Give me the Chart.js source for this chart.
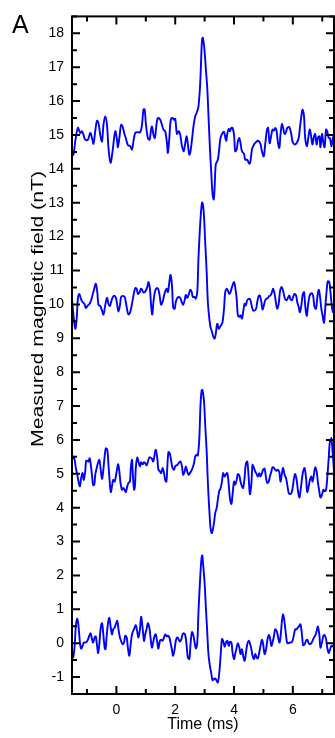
<!DOCTYPE html>
<html>
<head>
<meta charset="utf-8">
<script src="https://cdn.jsdelivr.net/npm/chart.js@4"></script>
<style>
  html, body { margin: 0; padding: 0; background: #fff; }
  canvas { display: block; }
</style>
</head>
<body>
<canvas id="fieldChart" width="335" height="738"></canvas>
<script>
// traces, each one offset by 5 nT
const time15 = [-1.51,-1.46,-1.40,-1.31,-1.23,-1.17,-1.12,-1.06,-0.97,-0.89,
  -0.83,-0.78,-0.72,-0.66,-0.61,-0.55,-0.49,-0.44,-0.38,-0.32,
  -0.27,-0.20,-0.13,-0.04,0.02,0.05,0.10,0.16,0.21,0.28,
  0.32,0.39,0.47,0.53,0.58,0.64,0.72,0.81,0.87,0.92,
  0.96,1.00,1.07,1.13,1.17,1.21,1.26,1.31,1.35,1.41,
  1.49,1.55,1.60,1.66,1.72,1.75,1.80,1.85,1.91,1.96,
  2.00,2.06,2.12,2.17,2.23,2.29,2.34,2.39,2.43,2.48,
  2.52,2.57,2.62,2.68,2.74,2.79,2.85,2.91,2.94,2.99,
  3.04,3.09,3.13,3.18,3.23,3.27,3.31,3.34,3.38,3.45,
  3.50,3.54,3.61,3.66,3.73,3.77,3.82,3.86,3.91,3.95,
  4.00,4.04,4.09,4.13,4.18,4.22,4.27,4.34,4.38,4.45,
  4.52,4.56,4.61,4.68,4.75,4.81,4.89,4.95,5.01,5.06,
  5.12,5.16,5.21,5.27,5.31,5.36,5.40,5.45,5.49,5.54,
  5.58,5.63,5.67,5.72,5.77,5.81,5.88,5.94,5.99,6.06,
  6.13,6.20,6.24,6.29,6.33,6.38,6.42,6.48,6.54,6.58,
  6.63,6.67,6.72,6.76,6.81,6.85,6.90,6.94,6.99,7.04,
  7.08,7.13,7.17,7.22,7.26,7.31,7.35,7.40,7.43];
const field15 = [14.47,14.42,14.81,15.21,15.06,15.11,15.01,14.86,14.86,15.06,
  14.91,14.74,15.11,15.42,15.35,15.01,14.81,15.30,15.55,15.30,
  14.62,14.18,14.52,15.11,14.86,14.64,14.91,15.30,15.25,15.01,
  14.91,14.70,14.67,14.57,14.81,15.06,15.08,15.08,15.30,15.75,
  15.75,15.35,14.91,14.86,15.11,15.25,15.01,14.91,15.21,15.50,
  15.45,15.30,15.16,15.11,14.76,14.47,14.91,15.45,15.50,15.45,
  15.48,15.03,15.11,15.01,14.67,14.52,14.76,14.96,14.72,14.42,
  14.52,14.86,15.25,15.55,15.68,15.84,16.53,17.80,17.87,17.56,
  16.97,16.38,15.60,14.62,13.83,13.25,13.10,13.44,14.13,14.27,
  14.62,14.91,15.06,15.09,14.83,15.03,15.18,15.11,15.21,15.21,
  15.01,14.52,14.57,14.81,14.91,14.76,14.52,14.44,14.27,14.27,
  14.15,14.23,14.57,14.72,14.79,14.83,14.76,14.52,14.37,14.72,
  15.16,15.21,14.76,15.01,15.16,15.13,15.21,15.11,14.79,14.62,
  15.01,15.32,15.21,15.03,15.09,15.21,15.23,15.06,14.81,14.72,
  14.76,14.91,15.21,15.55,15.75,15.55,14.91,14.67,15.01,15.16,
  14.91,14.72,14.96,15.03,14.72,14.91,14.96,14.64,15.03,14.76,
  14.64,15.16,15.11,14.91,14.91,14.67,14.86,15.01,15.01];

const time10 = [-1.51,-1.46,-1.40,-1.35,-1.31,-1.26,-1.21,-1.15,-1.09,-1.04,
  -0.97,-0.91,-0.86,-0.80,-0.74,-0.70,-0.65,-0.61,-0.55,-0.49,
  -0.44,-0.38,-0.32,-0.27,-0.22,-0.18,-0.12,-0.06,-0.01,0.03,
  0.07,0.12,0.16,0.22,0.28,0.32,0.37,0.41,0.47,0.53,
  0.58,0.64,0.69,0.73,0.79,0.83,0.87,0.91,0.96,1.00,
  1.05,1.09,1.14,1.18,1.22,1.26,1.32,1.38,1.42,1.47,
  1.52,1.57,1.62,1.66,1.71,1.75,1.80,1.84,1.89,1.93,
  1.98,2.02,2.07,2.11,2.17,2.23,2.27,2.32,2.36,2.41,
  2.45,2.51,2.56,2.60,2.66,2.70,2.75,2.79,2.84,2.89,
  2.92,2.97,3.02,3.07,3.11,3.16,3.20,3.25,3.29,3.34,
  3.38,3.43,3.48,3.52,3.57,3.61,3.66,3.70,3.75,3.79,
  3.84,3.88,3.93,4.00,4.04,4.09,4.13,4.18,4.22,4.27,
  4.31,4.36,4.40,4.45,4.52,4.56,4.61,4.65,4.70,4.75,
  4.79,4.84,4.88,4.93,4.97,5.02,5.06,5.11,5.15,5.20,
  5.24,5.29,5.33,5.38,5.43,5.47,5.52,5.56,5.61,5.65,
  5.70,5.74,5.79,5.83,5.88,5.92,5.97,6.01,6.06,6.11,
  6.15,6.20,6.24,6.29,6.33,6.38,6.42,6.47,6.51,6.56,
  6.60,6.65,6.69,6.74,6.79,6.83,6.88,6.92,6.97,7.01,
  7.06,7.10,7.15,7.19,7.24,7.28,7.33,7.37,7.43];
const field10 = [10.17,9.68,9.28,9.58,10.17,10.31,10.17,10.07,10.02,9.89,
  9.97,10.02,10.12,10.31,10.51,10.61,10.36,9.99,9.95,9.82,
  9.70,9.97,10.19,10.02,9.95,10.07,10.22,10.25,10.17,9.97,
  9.79,9.97,10.22,10.25,10.22,10.07,9.82,9.70,9.77,10.02,
  10.26,10.48,10.46,10.31,10.36,10.46,10.44,10.36,10.36,10.41,
  10.51,10.66,10.46,9.97,9.70,10.07,10.41,10.48,10.46,10.26,
  9.99,10.07,10.26,10.38,10.46,10.36,10.66,10.87,10.56,9.92,
  9.87,10.07,10.19,10.22,10.19,10.05,9.99,10.12,10.28,10.19,
  10.26,10.43,10.36,10.22,10.22,10.17,10.36,11.34,12.23,12.86,
  13.01,12.72,11.83,10.95,10.07,9.58,9.33,9.19,9.06,8.99,
  9.14,9.43,9.28,9.33,9.40,9.48,9.87,10.36,10.46,10.41,
  10.31,10.36,10.51,10.66,10.51,10.17,9.68,9.63,9.68,9.58,
  9.77,10.02,9.97,10.12,10.17,10.12,9.92,9.82,9.82,9.87,
  10.07,10.25,10.26,10.07,9.85,9.99,10.12,10.17,10.19,10.25,
  10.26,10.36,10.46,10.31,10.02,9.87,10.02,10.36,10.51,10.46,
  10.28,10.15,10.12,10.19,10.26,10.15,10.12,10.22,10.31,10.26,
  10.07,9.92,9.77,9.97,10.26,10.36,9.97,9.66,9.92,10.22,
  10.31,10.33,10.25,9.92,9.87,10.19,10.43,10.26,9.87,9.68,
  9.46,9.87,10.41,10.68,10.66,10.36,9.92,9.77,9.99];

const time5 = [-1.51,-1.47,-1.42,-1.38,-1.33,-1.29,-1.24,-1.20,-1.15,-1.11,
  -1.06,-1.03,-0.98,-0.95,-0.91,-0.87,-0.82,-0.79,-0.75,-0.72,
  -0.67,-0.63,-0.58,-0.54,-0.49,-0.45,-0.40,-0.36,-0.31,-0.27,
  -0.22,-0.19,-0.15,-0.11,-0.06,-0.02,0.03,0.06,0.10,0.14,
  0.19,0.23,0.28,0.32,0.37,0.41,0.46,0.49,0.53,0.56,
  0.60,0.63,0.66,0.71,0.75,0.80,0.84,0.89,0.94,0.98,
  1.03,1.07,1.12,1.16,1.21,1.25,1.30,1.34,1.39,1.43,
  1.48,1.52,1.57,1.62,1.66,1.70,1.73,1.77,1.82,1.87,
  1.91,1.96,2.00,2.05,2.09,2.14,2.18,2.23,2.27,2.32,
  2.36,2.41,2.45,2.50,2.55,2.59,2.64,2.68,2.73,2.77,
  2.82,2.86,2.90,2.93,2.98,3.02,3.07,3.10,3.13,3.17,
  3.20,3.24,3.27,3.32,3.36,3.41,3.45,3.50,3.54,3.59,
  3.63,3.68,3.72,3.77,3.82,3.86,3.91,3.95,4.00,4.04,
  4.09,4.13,4.18,4.22,4.27,4.31,4.36,4.40,4.45,4.50,
  4.54,4.59,4.63,4.68,4.72,4.77,4.81,4.86,4.90,4.95,
  4.99,5.04,5.09,5.13,5.18,5.22,5.27,5.31,5.36,5.40,
  5.45,5.49,5.54,5.58,5.63,5.67,5.72,5.77,5.81,5.86,
  5.90,5.95,5.99,6.04,6.08,6.13,6.17,6.22,6.26,6.31,
  6.35,6.40,6.45,6.49,6.54,6.58,6.63,6.67,6.72,6.76,
  6.81,6.85,6.90,6.94,6.99,7.04,7.08,7.13,7.17,7.22,
  7.26,7.31,7.35,7.40,7.43];
const field5 = [5.41,5.51,5.41,5.17,4.97,4.77,4.63,4.87,5.02,4.82,
  5.07,5.38,5.38,5.36,5.46,5.26,4.87,4.66,4.68,4.97,
  5.17,5.31,5.41,5.17,4.85,5.07,5.51,5.75,5.71,5.26,
  4.68,4.46,4.63,4.82,4.77,4.92,5.17,5.28,5.07,4.73,
  4.53,4.58,4.53,4.46,4.63,4.73,4.77,5.17,5.41,4.97,
  4.53,4.63,5.17,5.48,5.36,5.22,5.34,5.28,5.34,5.31,
  5.25,5.36,5.48,5.48,5.44,5.36,5.56,5.71,5.46,5.12,
  5.07,5.02,5.17,5.02,4.82,4.77,5.17,5.64,5.58,5.34,
  5.17,5.12,5.22,5.25,5.28,5.34,5.36,5.22,4.97,5.07,
  5.22,5.07,4.97,5.02,5.09,5.17,5.31,5.51,5.56,5.54,
  6.05,7.03,7.47,7.47,7.13,6.44,5.66,4.97,4.38,3.79,
  3.40,3.25,3.32,3.55,3.84,3.99,4.24,4.50,4.56,4.77,
  5.02,4.92,4.97,5.02,4.68,4.28,4.11,4.38,4.77,4.68,
  4.82,4.99,4.95,4.77,4.63,4.58,4.89,5.28,5.36,4.87,
  4.40,4.70,5.26,5.17,5.07,4.99,4.92,5.02,4.92,5.02,
  5.12,5.15,4.87,4.73,4.77,4.92,5.07,5.19,5.17,5.12,
  5.09,5.12,5.05,4.77,5.02,5.17,4.97,4.87,4.68,4.43,
  4.40,4.43,4.56,4.87,4.99,4.82,4.53,4.30,4.48,4.85,
  5.07,5.17,4.87,4.46,4.63,4.82,4.92,4.77,4.99,5.19,
  5.07,4.77,4.48,4.30,4.38,4.53,4.48,4.53,4.87,5.46,
  5.95,6.05,5.66,5.07,4.58];

const time0 = [-1.51,-1.47,-1.42,-1.38,-1.33,-1.29,-1.24,-1.20,-1.15,-1.11,
  -1.06,-1.01,-0.97,-0.92,-0.88,-0.83,-0.79,-0.74,-0.70,-0.65,
  -0.62,-0.58,-0.54,-0.49,-0.45,-0.40,-0.37,-0.33,-0.29,-0.24,
  -0.20,-0.15,-0.11,-0.06,-0.02,0.03,0.07,0.12,0.16,0.21,
  0.26,0.30,0.35,0.39,0.44,0.48,0.53,0.57,0.62,0.66,
  0.71,0.75,0.80,0.84,0.89,0.94,0.98,1.03,1.07,1.12,
  1.16,1.21,1.25,1.30,1.34,1.39,1.43,1.48,1.52,1.57,
  1.62,1.66,1.71,1.75,1.80,1.84,1.89,1.93,1.98,2.02,
  2.07,2.11,2.16,2.21,2.25,2.30,2.34,2.39,2.43,2.48,
  2.52,2.57,2.61,2.66,2.70,2.75,2.79,2.84,2.89,2.92,
  2.95,3.00,3.04,3.09,3.13,3.18,3.23,3.27,3.32,3.36,
  3.41,3.45,3.50,3.54,3.59,3.63,3.68,3.72,3.77,3.82,
  3.86,3.91,3.95,4.00,4.04,4.09,4.13,4.18,4.22,4.27,
  4.31,4.36,4.40,4.45,4.50,4.54,4.59,4.63,4.68,4.72,
  4.77,4.81,4.86,4.90,4.95,4.99,5.04,5.09,5.13,5.18,
  5.22,5.27,5.31,5.36,5.40,5.45,5.49,5.54,5.58,5.63,
  5.67,5.72,5.77,5.81,5.86,5.90,5.95,5.99,6.04,6.08,
  6.13,6.17,6.22,6.26,6.31,6.35,6.40,6.45,6.49,6.54,
  6.58,6.63,6.67,6.72,6.76,6.81,6.85,6.90,6.94,6.99,
  7.04,7.08,7.13,7.17,7.22,7.26,7.31,7.35,7.40,7.43];
const field0 = [-0.37,-0.42,-0.08,0.51,0.73,0.51,0.02,-0.16,-0.08,0.02,
  0.02,0.04,0.10,0.22,0.29,0.12,0.02,0.17,0.20,-0.13,
  -0.29,-0.03,0.41,0.59,0.31,-0.13,-0.18,0.22,0.56,0.75,
  0.51,0.26,0.41,0.46,0.56,0.66,0.41,0.17,0.07,-0.03,
  0.02,0.22,0.17,-0.13,-0.37,-0.08,0.26,0.36,0.46,0.53,
  0.33,0.17,0.41,0.78,0.46,0.07,0.26,0.43,0.59,0.46,
  0.17,-0.13,0.02,0.22,0.26,0.02,-0.16,0.07,0.10,0.07,
  0.17,0.26,0.20,0.22,0.17,0.02,-0.20,-0.37,-0.18,0.07,
  0.17,0.12,0.05,0.12,0.26,0.29,0.24,-0.08,-0.42,-0.47,
  -0.03,0.33,0.26,0.02,-0.16,0.02,0.90,1.78,2.47,2.59,
  2.32,1.78,1.10,0.31,-0.32,-0.67,-0.91,-1.09,-1.06,-1.04,
  -1.11,-1.16,-0.86,-0.42,0.12,0.07,-0.10,0.00,0.07,-0.08,
  0.04,0.02,-0.27,-0.47,-0.32,-0.13,0.00,-0.13,-0.32,-0.18,
  -0.37,-0.52,-0.32,-0.03,0.07,0.00,-0.18,-0.37,-0.47,-0.32,
  -0.42,-0.45,-0.27,-0.08,0.10,-0.03,-0.32,-0.18,0.07,0.24,
  0.17,-0.08,0.02,0.22,0.41,0.36,0.22,0.02,0.17,0.66,
  0.85,0.61,0.22,0.00,0.00,0.02,0.02,0.07,0.26,0.41,
  0.41,0.46,0.51,0.56,0.26,-0.06,-0.03,0.07,0.10,0.00,
  -0.03,0.00,0.07,0.17,0.22,0.36,0.49,0.26,-0.13,0.02,
  0.22,0.24,0.12,-0.13,-0.29,-0.20,-0.08,-0.08,-0.13,-0.18];

const xRange = [-1.51, 7.4];
const yRange = [-1.5, 18.5];
const xLabelled = [0, 2, 4, 6];

const FONT = '"Liberation Sans", Arial, sans-serif';

function trace(times, values) {
    return {
        data: times.map((t, i) => ({ x: t, y: values[i] })),
        borderColor: '#0000ff',
        borderWidth: 1.9,
        pointRadius: 0,
        fill: false,
        tension: 0.35
    };
}

// box frame with inward ticks on all four sides, plus the panel letter and y title
const framePlugin = {
    id: 'frame',
    afterDraw(chart) {
        const { ctx, chartArea: a, scales: { x, y } } = chart;
        ctx.save();
        ctx.strokeStyle = '#000';
        ctx.lineWidth = 2;
        ctx.strokeRect(a.left, a.top, a.right - a.left, a.bottom - a.top);

        ctx.beginPath();
        x.ticks.forEach(t => {
            if (!Number.isInteger(t.value)) return;
            const px = x.getPixelForValue(t.value);
            const len = t.value % 2 === 0 ? 8 : 5;
            ctx.moveTo(px, a.bottom); ctx.lineTo(px, a.bottom - len);
            ctx.moveTo(px, a.top); ctx.lineTo(px, a.top + len);
        });
        y.ticks.forEach(t => {
            const py = y.getPixelForValue(t.value);
            const len = Number.isInteger(t.value) ? 8 : 5;
            ctx.moveTo(a.left, py); ctx.lineTo(a.left + len, py);
            ctx.moveTo(a.right, py); ctx.lineTo(a.right - len, py);
        });
        ctx.stroke();

        ctx.fillStyle = '#000';
        ctx.font = '25px ' + FONT;
        ctx.textBaseline = 'alphabetic';
        ctx.textAlign = 'left';
        ctx.fillText('A', 12, 33);

        const title = 'Measured magnetic field (nT)';
        ctx.translate(38, 309);
        ctx.rotate(-Math.PI / 2);
        ctx.font = '17px ' + FONT;
        const w = ctx.measureText(title).width;
        ctx.scale(276 / w, 1);
        ctx.textAlign = 'center';
        ctx.textBaseline = 'middle';
        ctx.fillText(title, 0, 0);
        ctx.restore();
    }
};

const ctx = document.getElementById('fieldChart').getContext('2d');
const fieldChart = new Chart(ctx, {
    type: 'line',
    data: {
        datasets: [
            trace(time15, field15),
            trace(time10, field10),
            trace(time5, field5),
            trace(time0, field0)
        ]
    },
    options: {
        responsive: false,
        animation: false,
        devicePixelRatio: 1,
        layout: { padding: { top: 13, right: 1, left: 0, bottom: 0 } },
        plugins: { legend: { display: false }, tooltip: { enabled: false } },
        scales: {
            x: {
                type: 'linear',
                min: xRange[0],
                max: xRange[1],
                afterFit: s => { s.height = 44; },
                grid: { display: false, drawTicks: false },
                border: { display: false },
                ticks: {
                    stepSize: 1,
                    includeBounds: false,
                    autoSkip: false,
                    maxRotation: 0,
                    padding: 8,
                    color: '#000',
                    font: { family: FONT, size: 14 },
                    callback: v => (xLabelled.includes(v) ? String(v) : '')
                },
                title: {
                    display: true,
                    text: 'Time (ms)',
                    color: '#000',
                    font: { family: FONT, size: 16 },
                    padding: { top: 0, bottom: 4 }
                }
            },
            y: {
                min: yRange[0],
                max: yRange[1],
                afterFit: s => { s.width = 72; },
                grid: { display: false, drawTicks: false },
                border: { display: false },
                ticks: {
                    stepSize: 0.5,
                    autoSkip: false,
                    padding: 8,
                    color: '#000',
                    font: { family: FONT, size: 14 },
                    callback: v => (Number.isInteger(v) ? String(v) : '')
                }
            }
        }
    },
    plugins: [framePlugin]
});
</script>
</body>
</html>
